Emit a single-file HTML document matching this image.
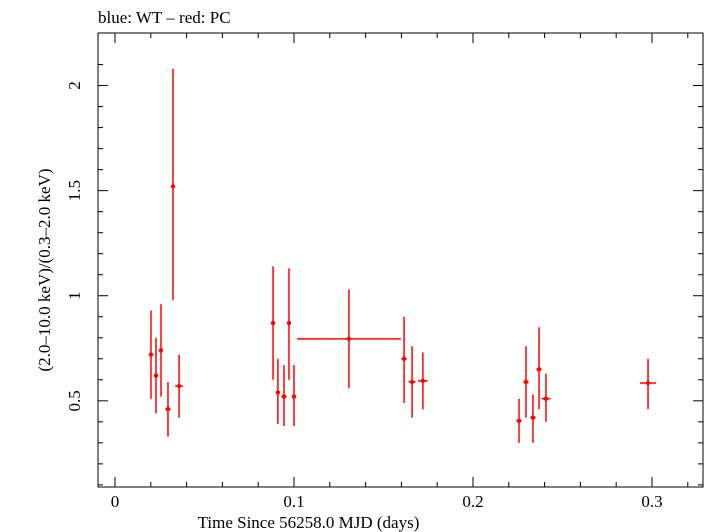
<!DOCTYPE html>
<html><head><meta charset="utf-8"><style>body{margin:0;background:#fff}svg{display:block;font-family:"Liberation Serif",serif}</style></head>
<body>
<svg id="c" width="705" height="532"></svg>
<script>
const times=[0.0201,0.0229,0.0257,0.0296,0.0324,0.0358,0.0883,0.0910,0.0944,0.0972,0.1000,0.1307,0.1615,0.1660,0.1720,0.2257,0.2296,0.2335,0.2369,0.2408,0.2978];
const timeErr=[0.001,0.001,0.001,0.0015,0.001,0.0022,0.001,0.001,0.0015,0.001,0.001,0.029,0.0015,0.002,0.0028,0.0015,0.0015,0.0015,0.0015,0.0025,0.0045];
const ratios=[0.72,0.62,0.74,0.46,1.52,0.57,0.87,0.54,0.52,0.87,0.52,0.795,0.70,0.59,0.595,0.405,0.59,0.42,0.65,0.51,0.585];
const ratioHi=[0.93,0.80,0.96,0.59,2.08,0.72,1.14,0.70,0.67,1.13,0.67,1.03,0.90,0.76,0.73,0.51,0.76,0.53,0.85,0.63,0.70];
const ratioLo=[0.51,0.44,0.52,0.33,0.98,0.42,0.60,0.39,0.38,0.60,0.38,0.56,0.49,0.42,0.46,0.30,0.42,0.30,0.46,0.40,0.46];
const xTicks=[0,0.1,0.2,0.3];const xTickLabels=["0","0.1","0.2","0.3"];
const yTicks=[0.5,1,1.5,2];const yTickLabels=["0.5","1","1.5","2"];
const L=98,R=703,T=33,B=487,x0=-0.0095,x1=0.3285,y0=0.09,y1=2.25;
const X=t=>L+(t-x0)/(x1-x0)*(R-L), Y=v=>B-(v-y0)/(y1-y0)*(B-T);
const s=document.getElementById('c'),NS="http://www.w3.org/2000/svg";
function el(tag,a,p){const e=document.createElementNS(NS,tag);for(const k in a)e.setAttribute(k,a[k]);(p||s).appendChild(e);return e;}
const fr=el('rect',{x:L,y:T,width:R-L,height:B-T,fill:'none',stroke:'#000','stroke-width':1});

const ax=el('g',{stroke:'#000','stroke-width':1});
for(let v=0.1;v<=2.2;v+=0.1){const y=Y(v),major=Math.abs(v*2-Math.round(v*2))<1e-6;const w=major?10:5;
el('line',{x1:L,x2:L+w,y1:y,y2:y},ax);el('line',{x1:R,x2:R-w,y1:y,y2:y},ax);}
for(let t=0;t<=0.32;t+=0.02){const x=X(t),major=Math.abs(t*10-Math.round(t*10))<1e-6;const w=major?10:5;
el('line',{x1:x,x2:x,y1:B,y2:B-w},ax);el('line',{x1:x,x2:x,y1:T,y2:T+w},ax);}
xTicks.forEach((t,i)=>{const e=el('text',{x:X(t),y:B+20,'text-anchor':'middle','font-size':17});e.textContent=xTickLabels[i];
});
yTicks.forEach((v,i)=>{const e=el('text',{x:0,y:0,'text-anchor':'middle','font-size':17,transform:`translate(${L-18},${Y(v)}) rotate(-90)`});e.textContent=yTickLabels[i];
});
const g=el('g',{stroke:'#f00','stroke-width':1.5,fill:'#f00'});
times.forEach((t,i)=>{const x=X(t),y=Y(ratios[i]);
const a=el('line',{x1:x,x2:x,y1:Y(ratioHi[i]),y2:Y(ratioLo[i])},g);
const b=el('line',{x1:X(t-timeErr[i]),x2:X(t+timeErr[i]),y1:y,y2:y},g);
const c=el('circle',{cx:x,cy:y,r:2.2,stroke:'none'},g);});
let t1=el('text',{x:98,y:23,'font-size':17});t1.textContent="blue: WT – red: PC";
let t2=el('text',{x:(L+R)/2-92,y:528,'text-anchor':'middle','font-size':17});t2.textContent="Time Since 56258.0 MJD (days)";
let t3=el('text',{x:0,y:0,'text-anchor':'middle','font-size':17,transform:`translate(50,${(T+B)/2+10}) rotate(-90)`});t3.textContent="(2.0–10.0 keV)/(0.3–2.0 keV)";
</script>
</body></html>
